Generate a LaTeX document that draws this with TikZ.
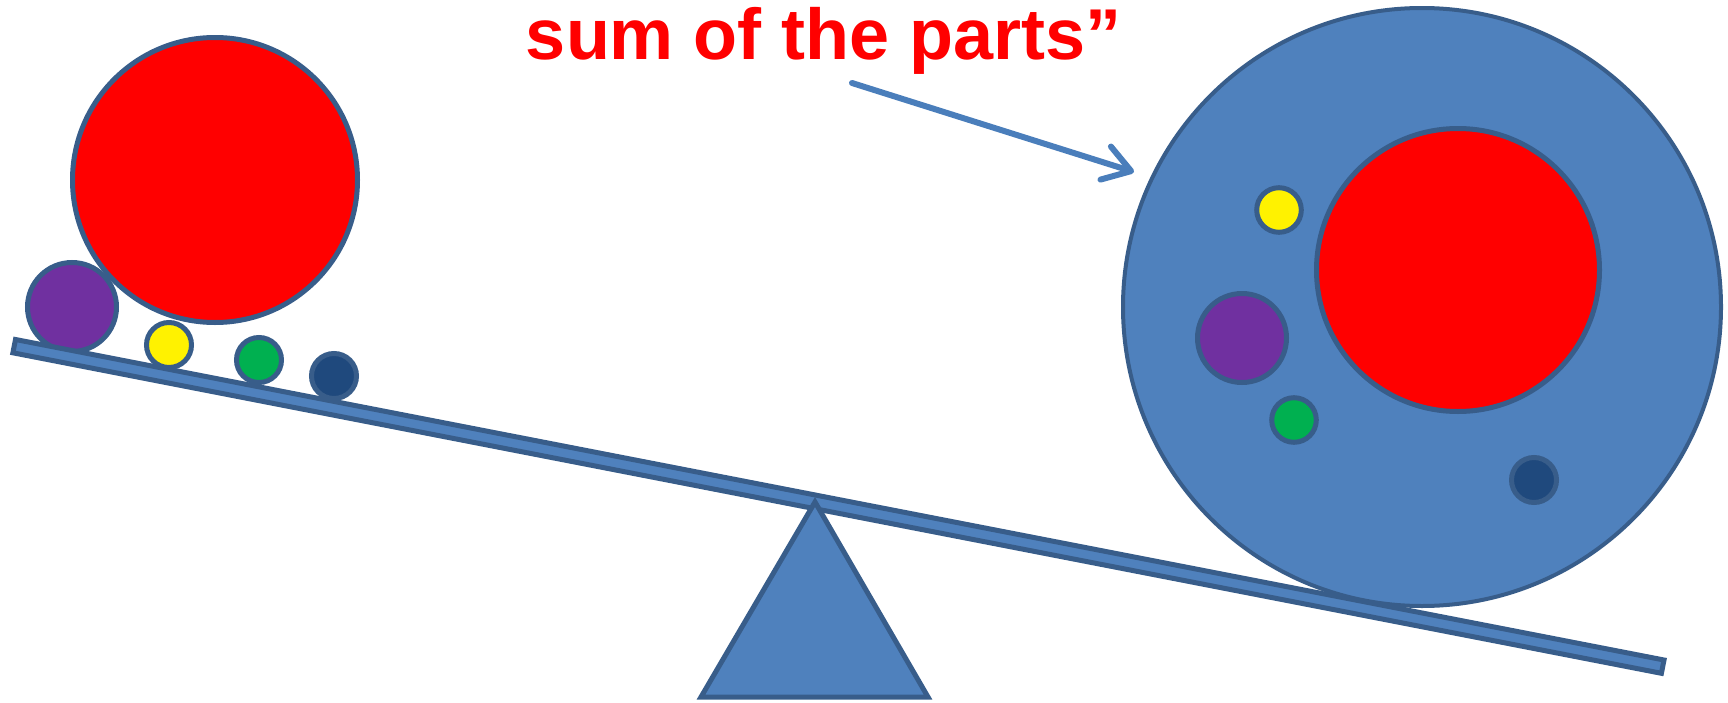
\documentclass[tikz,border=0pt]{standalone}
\usepackage{fontspec}
\setmainfont{Liberation Sans}
\usetikzlibrary{arrows.meta}
\definecolor{fillblue}{RGB}{79,129,189}
\definecolor{lineblue}{RGB}{56,93,138}
\definecolor{arrowblue}{RGB}{74,126,187}
\definecolor{ballpurple}{RGB}{112,48,160}
\definecolor{ballgreen}{RGB}{0,176,80}
\definecolor{ballnavy}{RGB}{31,73,125}
\tikzset{
  outline/.style={draw=lineblue, line width=3.75pt},
  ball/.style={outline, fill=#1},
  pointer/.style={draw=arrowblue, line width=4.5pt, line cap=round,
    -{Straight Barb[length=20pt, width=26pt, round]}}
}
\begin{document}
\begin{tikzpicture}[x=0.75pt,y=0.75pt,yscale=-1,xscale=1]
        \useasboundingbox (0,0) rectangle (1728,703);
        \draw (824,59) node [anchor=base, text=red, font=\fontsize{54}{60}\bfseries\selectfont] (title) {sum of the parts”};
        \coordinate (arrowfrom) at (852,83);
        \coordinate (arrowto) at (1134,172);
        \draw [pointer] (arrowfrom) -- (arrowto);
        % left pan
        \draw [ball=red] (215,180) circle (142.5);
        \draw [ball=ballpurple] (72,307) circle (44.5);
        \draw [outline, fill=fillblue] (15.5,339.5) -- (1664,660) -- (1661.4,673.3) -- (12.9,352.8) -- cycle;
        \draw [ball=yellow] (169,345) circle (22.5);
        \draw [ball=ballgreen] (259,360) circle (22.5);
        \draw [ball=ballnavy] (334,376) circle (22.5);
        % right pan
        \draw [draw=lineblue, line width=3pt, fill=fillblue] (1422,307) circle (299);
        \draw [ball=red] (1458,270) circle (141.5);
        \draw [ball=yellow] (1279,210) circle (22.3);
        \draw [ball=ballpurple] (1242,338) circle (44.5);
        \draw [ball=ballgreen] (1294,420) circle (22.3);
        \draw [ball=ballnavy] (1534,480) circle (22.5);
        \draw [outline, fill=fillblue] (815,502) -- (928,697) -- (701,697) -- cycle;
\end{tikzpicture}
\end{document}
